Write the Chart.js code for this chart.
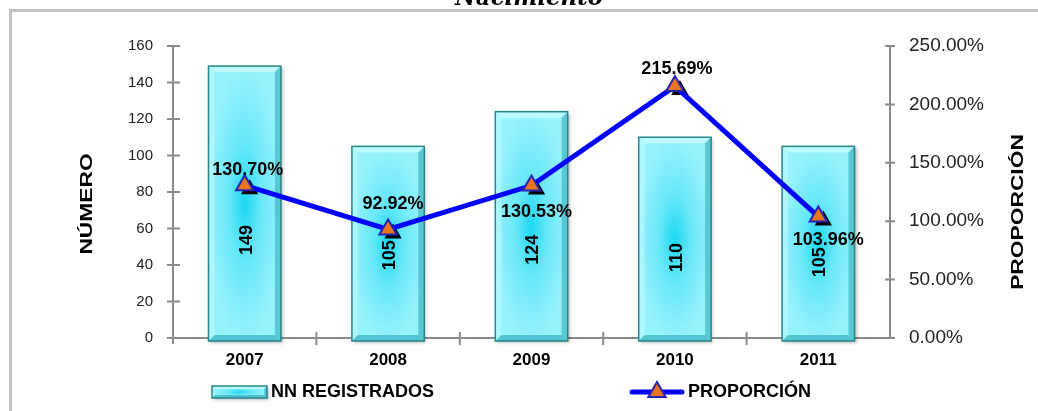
<!DOCTYPE html>
<html>
<head>
<meta charset="utf-8">
<script src="https://cdn.jsdelivr.net/npm/chart.js@4/dist/chart.umd.min.js"></script>
<style>
  html, body { margin: 0; padding: 0; background: #fff; }
  #wrap { width: 1038px; height: 411px; }
</style>
</head>
<body>
<div id="wrap"><canvas id="nnChart" width="1038" height="411"></canvas></div>
<script>
// Datos del gráfico
const years = ['2007', '2008', '2009', '2010', '2011'];
const registrados = [149, 105, 124, 110, 105];
const proporcion = [130.70, 92.92, 130.53, 215.69, 103.96];
const numeroMax = 160, numeroStep = 20;
const proporcionMax = 250, proporcionStep = 50;

// Ajustes de posición de etiquetas (px)
const pointLabelDx = [3, 5, 5, 2, 10];
const pointLabelDy = [-15, -25, 26, -17, 23];
const barLabelDy = [38, 13, 25, 20, 20];

const FONT = '"Liberation Sans", Arial, sans-serif';
const AXIS_COLOR = '#8a8a8a';

function triangle(ctx, x, y, r) {
  ctx.beginPath();
  for (let k = 0; k < 3; k++) {
    const a = k * 2 * Math.PI / 3;
    const px = x + Math.sin(a) * r, py = y - Math.cos(a) * r;
    if (k === 0) ctx.moveTo(px, py); else ctx.lineTo(px, py);
  }
  ctx.closePath();
}

// Barra con efecto biselado
function bevelBar(ctx, left, top, right, bottom, d) {
  const w = right - left, h = bottom - top;
  ctx.save();
  ctx.shadowColor = 'rgba(0,0,0,0.25)';
  ctx.shadowOffsetX = 2; ctx.shadowOffsetY = 2; ctx.shadowBlur = 3;
  ctx.fillStyle = '#92F1FA';
  ctx.fillRect(left, top, w, h);
  ctx.restore();

  ctx.save();
  ctx.beginPath(); ctx.rect(left, top, w, h); ctx.clip();
  ctx.translate((left + right) / 2, (top + bottom) / 2);
  ctx.scale(w / 2, h / 2);
  const g = ctx.createRadialGradient(0, 0, 0, 0, 0, 1);
  g.addColorStop(0, '#1CD8F2');
  g.addColorStop(0.45, '#6AE8F8');
  g.addColorStop(1, '#96F2FB');
  ctx.fillStyle = g;
  ctx.fillRect(-1, -1, 2, 2);
  ctx.restore();

  const sides = [
    ['rgba(200,252,255,0.8)', [[left, top], [right, top], [right - d, top + d], [left + d, top + d]]],
    ['rgba(190,250,255,0.6)', [[left, top], [left + d, top + d], [left + d, bottom - d], [left, bottom]]],
    ['rgba(30,160,175,0.5)', [[right, top], [right, bottom], [right - d, bottom - d], [right - d, top + d]]],
    ['rgba(30,160,175,0.55)', [[left, bottom], [left + d, bottom - d], [right - d, bottom - d], [right, bottom]]]
  ];
  sides.forEach(([c, pts]) => {
    ctx.beginPath();
    pts.forEach((p, i) => i ? ctx.lineTo(p[0], p[1]) : ctx.moveTo(p[0], p[1]));
    ctx.closePath();
    ctx.fillStyle = c;
    ctx.fill();
  });
  ctx.strokeStyle = '#24868D';
  ctx.lineWidth = 1.5;
  ctx.strokeRect(left, top, w, h);
}

const decorPlugin = {
  id: 'decor',
  beforeDraw(chart) {
    const ctx = chart.ctx;
    ctx.save();
    ctx.fillStyle = '#fff';
    ctx.fillRect(0, 0, chart.width, chart.height);
    ctx.fillStyle = '#c3c3c3';
    ctx.fillRect(9, 9, chart.width - 9, 3);
    ctx.fillRect(9, 9, 3, chart.height - 9);
    // título cortado
    ctx.font = 'italic bold 24px "DejaVu Serif", serif';
    const tw = ctx.measureText('Nacimiento').width;
    ctx.translate(529, 5);
    ctx.scale(148 / tw, 1);
    ctx.fillStyle = '#000';
    ctx.textAlign = 'center';
    ctx.textBaseline = 'alphabetic';
    ctx.fillText('Nacimiento', 0, 0);
    ctx.restore();
  },
  beforeDatasetsDraw(chart) {
    const ctx = chart.ctx, a = chart.chartArea;
    const x = chart.scales.x, y = chart.scales.y, y1 = chart.scales.y1;
    ctx.save();
    ctx.strokeStyle = AXIS_COLOR;
    ctx.lineWidth = 2;
    ctx.beginPath();
    ctx.moveTo(a.left, a.top); ctx.lineTo(a.left, a.bottom + 6);
    ctx.moveTo(a.left - 6, a.bottom); ctx.lineTo(a.right, a.bottom);
    ctx.moveTo(a.right, a.top); ctx.lineTo(a.right, a.bottom);
    for (let v = 0; v <= numeroMax; v += numeroStep) {
      const py = y.getPixelForValue(v);
      ctx.moveTo(a.left - 6, py); ctx.lineTo(a.left + 7, py);
    }
    for (let v = 0; v <= proporcionMax; v += proporcionStep) {
      const py = y1.getPixelForValue(v);
      ctx.moveTo(a.right - 5, py); ctx.lineTo(a.right + 5, py);
    }
    for (let i = 1; i < years.length; i++) {
      const px = (x.getPixelForValue(i - 1) + x.getPixelForValue(i)) / 2;
      ctx.moveTo(px, a.bottom - 6); ctx.lineTo(px, a.bottom + 7);
    }
    ctx.stroke();
    ctx.restore();
  },
  afterDatasetDraw(chart, args) {
    const ctx = chart.ctx;
    if (args.index !== 0) return;
    const meta = chart.getDatasetMeta(0);
    ctx.save();
    meta.data.forEach((el, i) => {
      const p = el.getProps(['x', 'y', 'base', 'width'], true);
      bevelBar(ctx, p.x - p.width / 2, p.y, p.x + p.width / 2, p.base + 3, 6);
    });
    ctx.font = 'bold 18px ' + FONT;
    ctx.fillStyle = '#000';
    ctx.textAlign = 'center';
    ctx.textBaseline = 'middle';
    meta.data.forEach((el, i) => {
      const p = el.getProps(['x', 'y', 'base'], true);
      ctx.save();
      ctx.translate(p.x + 2, (p.y + p.base) / 2 + barLabelDy[i]);
      ctx.rotate(-Math.PI / 2);
      ctx.fillText(String(registrados[i]), 0, 0);
      ctx.restore();
    });
    ctx.restore();
  },
  beforeDatasetDraw(chart, args) {
    if (args.index !== 1) return;
    const ctx = chart.ctx;
    ctx.save();
    ctx.fillStyle = '#000';
    chart.getDatasetMeta(1).data.forEach(pt => {
      triangle(ctx, pt.x + 5, pt.y + 4, 10);
      ctx.fill();
    });
    ctx.restore();
  },
  afterDatasetsDraw(chart) {
    const ctx = chart.ctx;
    ctx.save();
    ctx.font = 'bold 18px ' + FONT;
    ctx.fillStyle = '#000';
    ctx.textAlign = 'center';
    ctx.textBaseline = 'middle';
    chart.getDatasetMeta(1).data.forEach((pt, i) => {
      ctx.fillText(proporcion[i].toFixed(2) + '%', pt.x + pointLabelDx[i], pt.y + pointLabelDy[i]);
    });
    ctx.restore();
  },
  afterDraw(chart) {
    const ctx = chart.ctx;
    ctx.save();
    ctx.fillStyle = '#000';
    ctx.textAlign = 'center';
    ctx.textBaseline = 'middle';
    ctx.font = 'bold 17px ' + FONT;
    [['NÚMERO', 87, 204], ['PROPORCIÓN', 1018, 212]].forEach(([t, tx, ty]) => {
      ctx.save();
      ctx.translate(tx, ty);
      ctx.rotate(-Math.PI / 2);
      ctx.scale(1.34, 1);
      ctx.fillText(t, 0, 0);
      ctx.restore();
    });

    // leyenda
    const ly = 392;
    bevelBar(ctx, 212, ly - 6, 267, ly + 6, 3);
    ctx.font = 'bold 18px ' + FONT;
    ctx.textAlign = 'left';
    ctx.fillStyle = '#000';
    ctx.fillText(chart.data.datasets[0].label, 271, ly);
    ctx.strokeStyle = '#0000FF';
    ctx.lineWidth = 5;
    ctx.lineCap = 'round';
    ctx.beginPath(); ctx.moveTo(632, ly); ctx.lineTo(682, ly); ctx.stroke();
    triangle(ctx, 657, ly, 10);
    ctx.fillStyle = '#E8741E';
    ctx.fill();
    ctx.strokeStyle = '#2424B4';
    ctx.lineWidth = 2;
    ctx.stroke();
    ctx.fillStyle = '#000';
    ctx.fillText(chart.data.datasets[1].label, 688, ly);
    ctx.restore();
  }
};

function initializeNNChart() {
  const ctx = document.getElementById('nnChart').getContext('2d');
  window.nnChart = new Chart(ctx, {
    type: 'bar',
    data: {
      labels: years,
      datasets: [{
        type: 'bar',
        label: 'NN REGISTRADOS',
        data: registrados,
        yAxisID: 'y',
        order: 1,
        backgroundColor: 'rgba(0,0,0,0)',
        borderWidth: 0,
        barPercentage: 0.505,
        categoryPercentage: 1
      }, {
        type: 'line',
        label: 'PROPORCIÓN',
        data: proporcion,
        yAxisID: 'y1',
        order: 0,
        borderColor: '#0000FF',
        borderWidth: 5,
        tension: 0,
        pointStyle: 'triangle',
        pointRadius: 10,
        pointBackgroundColor: '#E8741E',
        pointBorderColor: '#2424B4',
        pointBorderWidth: 2
      }]
    },
    options: {
      responsive: false,
      animation: false,
      layout: { padding: { top: 46, left: 0, right: 0, bottom: 0 } },
      plugins: {
        legend: { display: false },
        tooltip: { enabled: false }
      },
      scales: {
        x: {
          grid: { display: false, drawTicks: false },
          border: { display: false },
          ticks: { color: '#000', padding: 12, font: { family: FONT, size: 17, weight: 'bold' } },
          afterFit: s => { s.height = 73; }
        },
        y: {
          position: 'left',
          min: 0,
          max: numeroMax,
          grid: { display: false, drawTicks: false },
          border: { display: false },
          ticks: { stepSize: numeroStep, color: '#222', padding: 20, font: { family: FONT, size: 15 } },
          afterFit: s => { s.width = 173; }
        },
        y1: {
          position: 'right',
          min: 0,
          max: proporcionMax,
          grid: { display: false, drawTicks: false },
          border: { display: false },
          ticks: {
            stepSize: proporcionStep,
            color: '#222',
            padding: 19,
            font: { family: FONT, size: 19 },
            callback: v => v.toFixed(2) + '%'
          },
          afterFit: s => { s.width = 148; }
        }
      }
    },
    plugins: [decorPlugin]
  });
}

initializeNNChart();
</script>
</body>
</html>
